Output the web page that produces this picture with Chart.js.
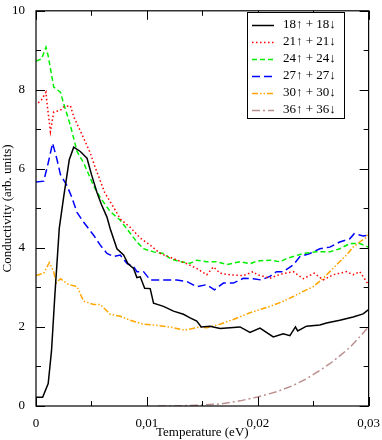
<!DOCTYPE html>
<html>
<head>
<meta charset="utf-8">
<script src="https://cdn.jsdelivr.net/npm/chart.js@4.4.1/dist/chart.umd.min.js"></script>
<style>
  html, body { margin: 0; padding: 0; background: #fff; }
  #wrap { width: 382px; height: 440px; }
</style>
</head>
<body>
<div id="wrap"><canvas id="cond"></canvas></div>
<script>
// Conductivity vs temperature

const t18 = [0, 0.0006, 0.0011, 0.0014, 0.0017, 0.0021, 0.0025, 0.003, 0.0034, 0.004, 0.0046, 0.005, 0.0055, 0.0059, 0.0064, 0.0067, 0.0073, 0.0079, 0.0083, 0.0088, 0.0091, 0.0094, 0.0098, 0.0103, 0.0106, 0.0115, 0.0124, 0.0133, 0.0139, 0.0145, 0.0149, 0.0157, 0.0166, 0.0175, 0.0184, 0.0193, 0.0202, 0.0214, 0.0223, 0.0229, 0.0234, 0.0236, 0.0244, 0.0256, 0.0262, 0.0274, 0.0286, 0.0295, 0.03];
const c18 = [0.22, 0.22, 0.57, 1.4, 2.8, 4.5, 5.3, 6.23, 6.55, 6.44, 6.27, 5.86, 5.4, 5.1, 4.78, 4.48, 3.98, 3.82, 3.6, 3.48, 3.25, 3.27, 2.98, 2.97, 2.6, 2.52, 2.4, 2.32, 2.23, 2.15, 2.0, 2.02, 1.96, 1.98, 2.0, 1.86, 1.97, 1.75, 1.83, 1.78, 2.0, 1.9, 2.02, 2.05, 2.1, 2.17, 2.25, 2.33, 2.44];

const t21 = [0.0002, 0.0005, 0.0009, 0.001, 0.0013, 0.0016, 0.0022, 0.0025, 0.0031, 0.0034, 0.0041, 0.0049, 0.0053, 0.0062, 0.007, 0.0076, 0.0085, 0.0094, 0.0103, 0.0112, 0.0124, 0.0136, 0.0145, 0.0154, 0.016, 0.0166, 0.0175, 0.0187, 0.0196, 0.0199, 0.0211, 0.022, 0.0232, 0.0241, 0.0251, 0.0259, 0.0268, 0.028, 0.0286, 0.0292, 0.0298, 0.03];
const c21 = [7.67, 7.75, 7.94, 7.65, 6.94, 7.44, 7.48, 7.57, 7.6, 7.32, 6.9, 6.4, 6.07, 5.4, 5.03, 4.73, 4.52, 4.25, 4.07, 3.86, 3.73, 3.6, 3.48, 3.32, 3.52, 3.36, 3.32, 3.3, 3.4, 3.33, 3.23, 3.33, 3.4, 3.22, 3.36, 3.19, 3.32, 3.4, 3.32, 3.4, 3.15, 3.05];

const t24 = [0, 0.0005, 0.0009, 0.0011, 0.0016, 0.0022, 0.0025, 0.0031, 0.0037, 0.0043, 0.0052, 0.0058, 0.0067, 0.0076, 0.0082, 0.0091, 0.0097, 0.0106, 0.0115, 0.0121, 0.013, 0.0139, 0.0145, 0.0154, 0.0163, 0.0172, 0.0184, 0.0193, 0.02, 0.0211, 0.022, 0.0226, 0.0241, 0.0253, 0.0265, 0.0274, 0.0283, 0.0292, 0.03];
const c24 = [8.73, 8.78, 9.08, 8.86, 8.07, 7.94, 7.65, 7.1, 6.44, 6.15, 5.57, 5.27, 4.92, 4.7, 4.48, 4.15, 3.98, 3.9, 3.86, 3.73, 3.65, 3.61, 3.69, 3.65, 3.65, 3.58, 3.65, 3.6, 3.67, 3.69, 3.65, 3.73, 3.86, 3.9, 3.9, 3.98, 4.11, 4.11, 4.02];

const t27 = [0, 0.0007, 0.0011, 0.0015, 0.0019, 0.0022, 0.0028, 0.0032, 0.0037, 0.0043, 0.0052, 0.0058, 0.0064, 0.007, 0.0076, 0.0082, 0.0088, 0.0091, 0.0097, 0.0103, 0.0115, 0.0127, 0.0136, 0.0145, 0.0154, 0.0161, 0.0169, 0.0178, 0.0187, 0.0196, 0.0203, 0.0211, 0.0217, 0.0223, 0.0232, 0.0238, 0.0247, 0.0256, 0.0265, 0.0274, 0.0283, 0.0287, 0.0295, 0.03];
const c27 = [5.67, 5.69, 6.15, 6.65, 6.23, 5.86, 5.57, 5.3, 4.9, 4.65, 4.32, 4.07, 3.86, 3.78, 3.82, 3.61, 3.53, 3.4, 3.4, 3.19, 3.19, 3.19, 3.15, 3.02, 3.07, 2.94, 3.11, 3.11, 3.23, 3.22, 3.19, 3.28, 3.4, 3.4, 3.57, 3.78, 3.86, 3.98, 4.02, 4.15, 4.23, 4.36, 4.3, 4.32];

const t30 = [0, 0.0007, 0.0012, 0.0016, 0.0018, 0.0022, 0.0029, 0.0037, 0.0043, 0.0052, 0.0058, 0.0067, 0.0076, 0.0085, 0.0097, 0.0106, 0.0115, 0.0124, 0.0134, 0.0148, 0.0154, 0.0166, 0.0178, 0.0193, 0.0202, 0.0211, 0.0223, 0.0232, 0.0241, 0.025, 0.0259, 0.0265, 0.0271, 0.028, 0.0286, 0.0292, 0.0298, 0.03];
const c30 = [3.3, 3.36, 3.63, 3.4, 3.11, 3.22, 3.08, 3.02, 2.65, 2.57, 2.57, 2.32, 2.27, 2.17, 2.07, 2.05, 2.02, 1.98, 1.92, 2.0, 1.98, 2.07, 2.19, 2.36, 2.44, 2.52, 2.65, 2.77, 2.9, 3.02, 3.23, 3.4, 3.57, 3.82, 4.02, 4.15, 4.27, 4.4];

const t36 = [0.011, 0.0125, 0.0145, 0.0166, 0.0184, 0.02, 0.0217, 0.0232, 0.0244, 0.0256, 0.0265, 0.0274, 0.0283, 0.029, 0.0298, 0.03];
const c36 = [0, 0, 0.02, 0.05, 0.13, 0.23, 0.36, 0.52, 0.69, 0.9, 1.07, 1.27, 1.48, 1.69, 1.94, 2.0];

const labels = ['18\u2191 + 18\u2193', '21\u2191 + 21\u2193', '24\u2191 + 24\u2193', '27\u2191 + 27\u2193', '30\u2191 + 30\u2193', '36\u2191 + 36\u2193'];

const serif = "'Liberation Serif', 'Times New Roman', serif";

function pts(xs, ys) {
    return xs.map((x, i) => ({ x: x, y: ys[i] }));
}

function series(label, xs, ys, color, dash) {
    return {
        label: label,
        data: pts(xs, ys),
        borderColor: color,
        backgroundColor: color,
        borderWidth: 1.5,
        borderDash: dash,
        pointRadius: 0,
        tension: 0,
        fill: false
    };
}

// frame with inward major/minor ticks on all four sides
const framePlugin = {
    id: 'frame',
    afterDatasetsDraw(chart) {
        const ctx = chart.ctx;
        const a = chart.chartArea;
        const xs = chart.scales.x, ys = chart.scales.y;
        ctx.save();
        ctx.strokeStyle = '#000';
        ctx.lineWidth = 1.2;
        ctx.strokeRect(a.left, a.top, a.right - a.left, a.bottom - a.top);

        const xMaj = xs.ticks.map(t => t.value);
        const yMaj = ys.ticks.map(t => t.value);
        const mids = v => v.slice(1).map((m, i) => (m + v[i]) / 2);

        function xt(vals, len) {
            vals.forEach(v => {
                const p = Math.round(xs.getPixelForValue(v)) + 0.5;
                ctx.beginPath();
                ctx.moveTo(p, a.bottom); ctx.lineTo(p, a.bottom - len);
                ctx.moveTo(p, a.top); ctx.lineTo(p, a.top + len);
                ctx.stroke();
            });
        }
        function yt(vals, len) {
            vals.forEach(v => {
                const p = Math.round(ys.getPixelForValue(v)) + 0.5;
                ctx.beginPath();
                ctx.moveTo(a.left, p); ctx.lineTo(a.left + len, p);
                ctx.moveTo(a.right, p); ctx.lineTo(a.right - len, p);
                ctx.stroke();
            });
        }
        ctx.lineWidth = 1;
        xt(xMaj, 9); xt(mids(xMaj), 5);
        yt(yMaj, 9); yt(mids(yMaj), 5);
        ctx.restore();
    }
};

// boxed legend in the upper right corner
const legendPlugin = {
    id: 'boxLegend',
    afterDraw(chart) {
        const ctx = chart.ctx;
        const box = { left: 247, top: 12, right: 344, bottom: 118 };
        ctx.save();
        ctx.fillStyle = '#fff';
        ctx.fillRect(box.left, box.top, box.right - box.left, box.bottom - box.top);
        ctx.strokeStyle = '#000';
        ctx.lineWidth = 1;
        ctx.strokeRect(box.left + 0.5, box.top + 0.5, box.right - box.left, box.bottom - box.top);
        ctx.font = '13px ' + serif;
        ctx.textBaseline = 'middle';
        chart.data.datasets.forEach((ds, i) => {
            const y = 25 + i * 17;
            ctx.strokeStyle = ds.borderColor;
            ctx.lineWidth = ds.borderWidth;
            ctx.setLineDash(ds.borderDash || []);
            ctx.beginPath();
            ctx.moveTo(252, y + 0.5);
            ctx.lineTo(274, y + 0.5);
            ctx.stroke();
            ctx.setLineDash([]);
            ctx.fillStyle = '#000';
            ctx.fillText(ds.label, 283, y);
        });
        ctx.restore();
    }
};

new Chart(document.getElementById('cond').getContext('2d'), {
    type: 'line',
    data: {
        datasets: [
            series(labels[0], t18, c18, '#000000', []),
            series(labels[1], t21, c21, '#ff0000', [1.5, 2.5]),
            series(labels[2], t24, c24, '#00ee00', [5, 3]),
            series(labels[3], t27, c27, '#0000ff', [8, 4]),
            series(labels[4], t30, c30, '#ffa500', [6, 2, 1.5, 2, 1.5, 2]),
            series(labels[5], t36, c36, '#bc8f8f', [8, 3, 2, 3])
        ]
    },
    options: {
        responsive: true,
        maintainAspectRatio: false,
        animation: false,
        layout: { padding: { top: 5, right: 13, left: 0, bottom: 0 } },
        plugins: {
            legend: { display: false },
            tooltip: { enabled: false }
        },
        scales: {
            x: {
                type: 'linear',
                min: 0,
                max: 0.03,
                grid: { display: false },
                border: { display: false },
                ticks: {
                    stepSize: 0.01,
                    maxRotation: 0,
                    padding: 2,
                    color: '#000',
                    font: { family: serif, size: 13 },
                    callback: v => v === 0 ? '0' : v.toFixed(2).replace('.', ',')
                },
                title: {
                    display: true,
                    text: 'Temperature (eV)',
                    color: '#000',
                    font: { family: serif, size: 13 },
                    padding: { top: 0, bottom: 0 }
                },
                afterFit: s => { s.height = 34; }
            },
            y: {
                min: 0,
                max: 10,
                grid: { display: false },
                border: { display: false },
                ticks: {
                    stepSize: 2,
                    padding: 3,
                    color: '#000',
                    font: { family: serif, size: 13 }
                },
                title: {
                    display: true,
                    text: 'Conductivity (arb. units)',
                    color: '#000',
                    font: { family: serif, size: 13 },
                    padding: { top: 0, bottom: 0 }
                },
                afterFit: s => { s.width = 36; }
            }
        }
    },
    plugins: [framePlugin, legendPlugin]
});
</script>
</body>
</html>
